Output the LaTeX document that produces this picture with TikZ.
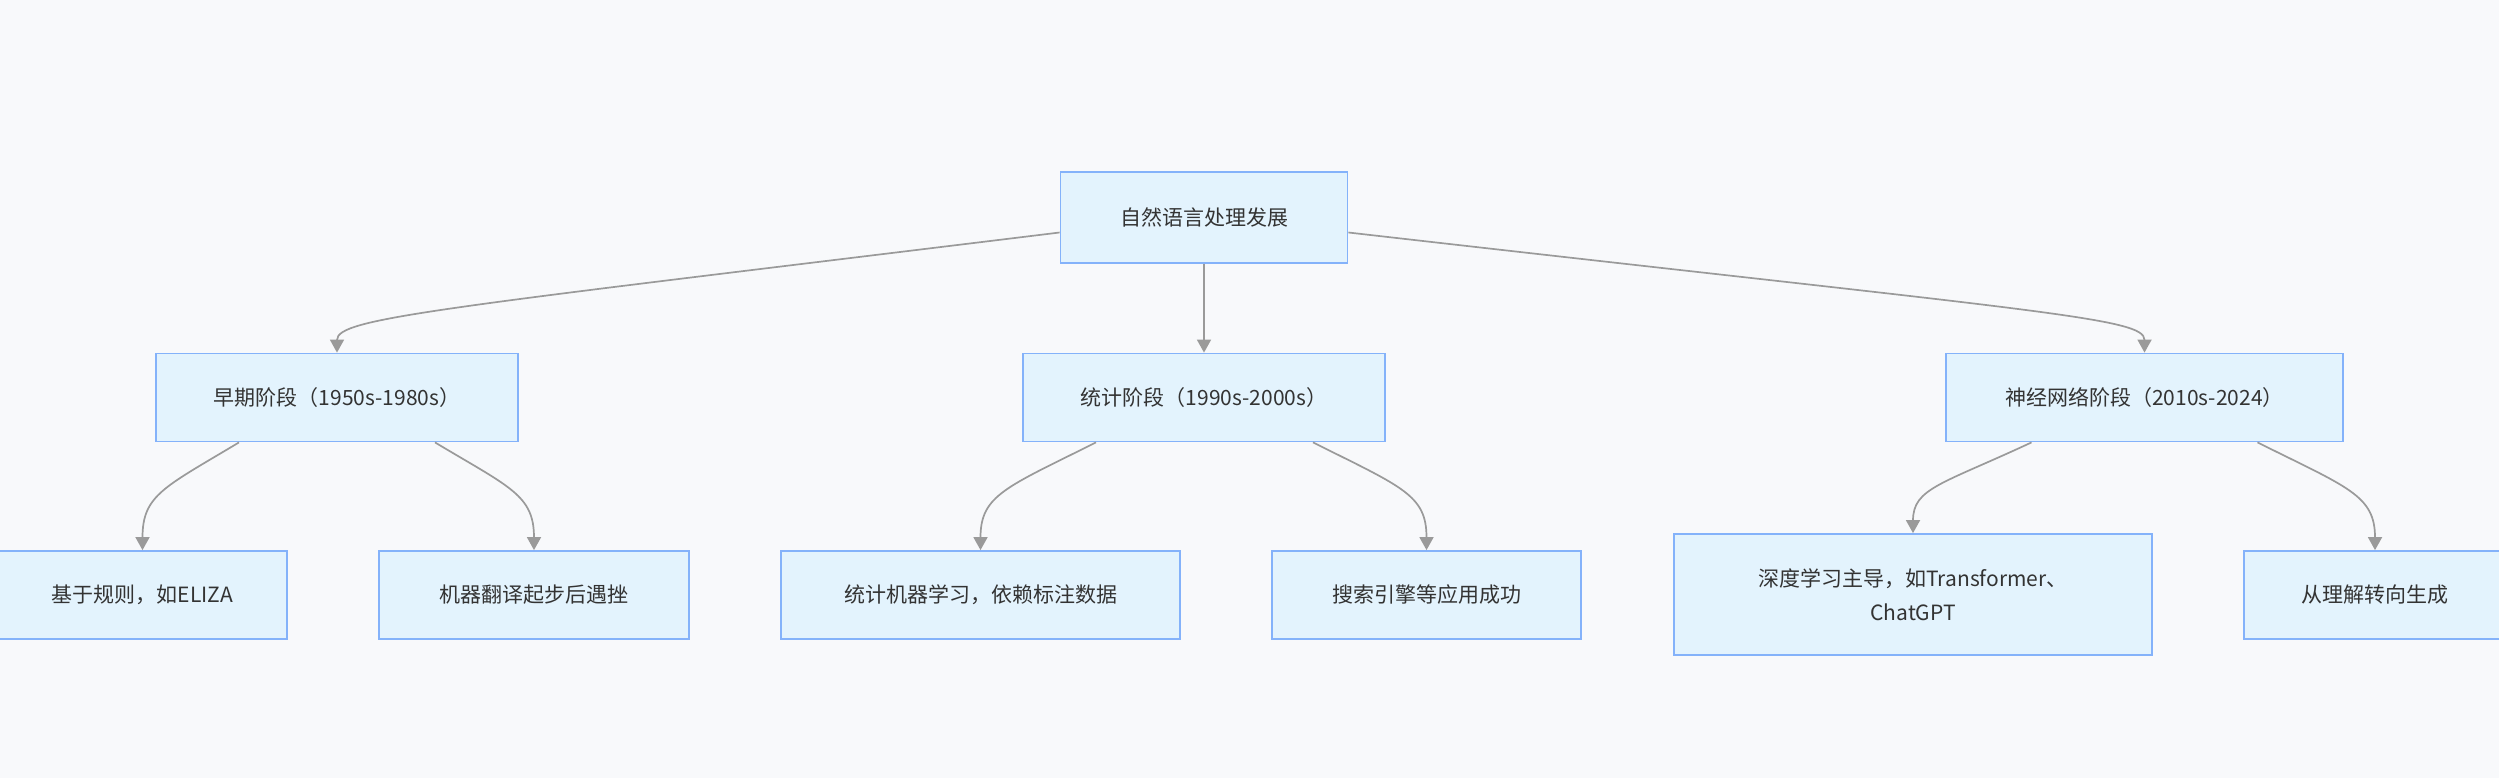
\documentclass[tikz,border=0pt]{standalone}
\usepackage{fontspec}
\setmainfont{Noto Sans CJK SC}
\usetikzlibrary{arrows.meta}
\definecolor{bgcol}{HTML}{F8F9FB}
\definecolor{boxfill}{HTML}{E3F3FD}
\definecolor{boxline}{HTML}{84B2FA}
\definecolor{linkcol}{HTML}{9A9A9A}
\definecolor{txtcol}{HTML}{333333}
\begin{document}
\begin{tikzpicture}[x=1pt,y=-1pt,
   stagebox/.style={draw=boxline,fill=boxfill,line width=1.8pt,text=txtcol,
      minimum height=88pt,inner sep=0pt,align=center,
      font=\fontsize{21}{33.5}\selectfont},
   link/.style={draw=linkcol,line width=1.7pt,
      -{Triangle[length=13pt,width=14pt,fill=linkcol]}}]
   \fill[bgcol] (0,0) rectangle (2499,778);
   \useasboundingbox (0,0) rectangle (2499,778);

   \node[stagebox,minimum width=287pt,minimum height=91pt] (nlp) at (1204,217.5) {自然语言处理发展};

   \node[stagebox,minimum width=362pt] (early) at (337,397.5) {早期阶段（1950s-1980s）};
   \node[stagebox,minimum width=362pt] (stat) at (1204,397.5) {统计阶段（1990s-2000s）};
   \node[stagebox,minimum width=397pt] (neural) at (2144.5,397.5) {神经网络阶段（2010s-2024）};

   \node[stagebox,minimum width=289pt] (rules) at (142.5,595) {基于规则，如ELIZA};
   \node[stagebox,minimum width=310pt] (mt) at (534,595) {机器翻译起步后遇挫};
   \node[stagebox,minimum width=399pt] (smt) at (980.5,595) {统计机器学习，依赖标注数据};
   \node[stagebox,minimum width=309pt] (search) at (1426.5,595) {搜索引擎等应用成功};
   \node[stagebox,minimum width=478pt,minimum height=121pt] (deep) at (1913,594.5) {深度学习主导，如Transformer、\\ChatGPT};
   \node[stagebox,minimum width=262pt] (gen) at (2375,595) {从理解转向生成};

   \draw[link] ([yshift=-15pt]nlp.west) .. controls +(-620,76) and +(0,-35) .. (early.north);
   \draw[link] (nlp.south) -- (stat.north);
   \draw[link] ([yshift=-15pt]nlp.east) .. controls +(700,80) and +(0,-35) .. (neural.north);

   \draw[link] ([xshift=-98pt]early.south) .. controls +(-75,45) and +(0,-55) .. (rules.north);
   \draw[link] ([xshift=98pt]early.south) .. controls +(75,45) and +(0,-55) .. (mt.north);
   \draw[link] ([xshift=-108pt]stat.south) .. controls +(-90,45) and +(0,-55) .. (smt.north);
   \draw[link] ([xshift=109pt]stat.south) .. controls +(90,45) and +(0,-55) .. (search.north);
   \draw[link] ([xshift=-113pt]neural.south) .. controls +(-90,42) and +(0,-45) .. (deep.north);
   \draw[link] ([xshift=113pt]neural.south) .. controls +(90,45) and +(0,-55) .. (gen.north);

\end{tikzpicture}
\end{document}
